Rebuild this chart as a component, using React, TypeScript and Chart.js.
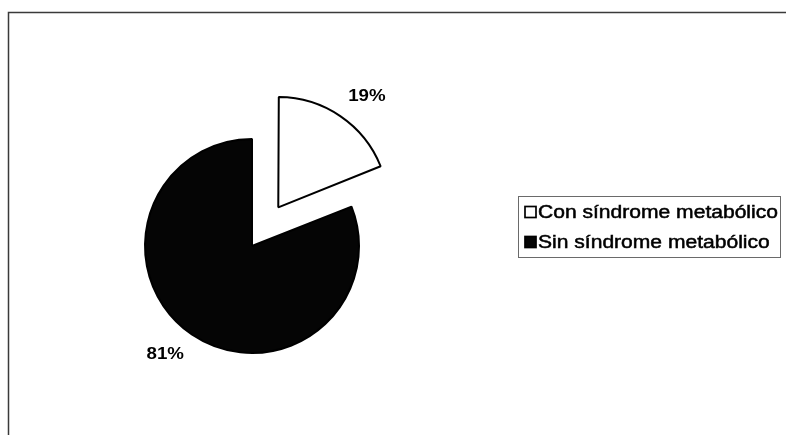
import React, { useEffect, useRef } from "react";
import { Chart, registerables } from "chart.js";

Chart.register(...registerables);

const categories = ["Con síndrome metabólico", "Sin síndrome metabólico"];
const values = [19, 81];
const valueLabels = ["19%", "81%"];

const fillColors = ["#ffffff", "#050505"];
// Chart.js arc offset setting (it moves a slice by roughly a quarter of this)
const explodeSetting = [187, 0];

const FONT = "'Liberation Sans', Arial, sans-serif";

function effectiveOffset(setting: number, circumference: number) {
  const fix = 1 - Math.sin(Math.min(Math.PI, circumference || 0));
  return (setting / 4) * (1 + fix);
}

const framePlugin = {
  id: "frame",
  beforeDraw(chart: any) {
    const ctx = chart.ctx;
    ctx.save();
    ctx.fillStyle = "#ffffff";
    ctx.fillRect(0, 0, chart.width, chart.height);
    ctx.strokeStyle = "#3a3a3a";
    ctx.lineWidth = 1.5;
    ctx.beginPath();
    ctx.moveTo(8.5, chart.height);
    ctx.lineTo(8.5, 12.5);
    ctx.lineTo(chart.width, 12.5);
    ctx.stroke();
    ctx.restore();
  },
};

function stretchedText(ctx: any, text: string, x: number, y: number, sx: number, thicken = 0) {
  ctx.save();
  ctx.translate(x, y);
  ctx.scale(sx, 1);
  if (thicken > 0) {
    ctx.lineWidth = thicken;
    ctx.strokeStyle = ctx.fillStyle;
    ctx.strokeText(text, 0, 0);
  }
  ctx.fillText(text, 0, 0);
  ctx.restore();
}

const labelsPlugin = {
  id: "pctLabels",
  afterDatasetsDraw(chart: any) {
    const ctx = chart.ctx;
    const meta = chart.getDatasetMeta(0);
    ctx.save();
    ctx.fillStyle = "#000";
    ctx.font = `bold 17px ${FONT}`;
    meta.data.forEach((arc: any, i: number) => {
      const { x, y, startAngle, endAngle, outerRadius, circumference } = arc.getProps(
        ["x", "y", "startAngle", "endAngle", "outerRadius", "circumference"],
        true
      );
      const mid = (startAngle + endAngle) / 2;
      const off = effectiveOffset(explodeSetting[i] || 0, circumference);
      const cx = x + Math.cos(mid) * off;
      const cy = y + Math.sin(mid) * off;
      const d = outerRadius + 14;
      const ax = cx + Math.cos(mid) * d;
      const ay = cy + Math.sin(mid) * d;
      ctx.textAlign = Math.cos(mid) >= 0 ? "left" : "right";
      ctx.textBaseline = Math.sin(mid) < 0 ? "bottom" : "top";
      stretchedText(ctx, valueLabels[i], ax, ay, 1.1);
    });
    ctx.restore();
  },
};

const legendPlugin = {
  id: "boxLegend",
  afterDraw(chart: any) {
    const ctx = chart.ctx;
    const left = 518.5;
    const top = 196.5;
    const w = 262;
    const h = 61;
    ctx.save();
    ctx.strokeStyle = "#6a6a6a";
    ctx.lineWidth = 1;
    ctx.strokeRect(left, top, w, h);
    const rowH = 30;
    const firstRow = 212;
    ctx.font = `18px ${FONT}`;
    ctx.textAlign = "left";
    ctx.textBaseline = "middle";
    (chart.data.labels as string[]).forEach((label, i) => {
      const cy = firstRow + i * rowH;
      ctx.fillStyle = fillColors[i];
      ctx.fillRect(525, cy - 5.5, 11, 11);
      ctx.strokeStyle = "#000";
      ctx.lineWidth = 1.7;
      ctx.strokeRect(525, cy - 5.5, 11, 11);
      ctx.fillStyle = "#000";
      stretchedText(ctx, label, 538, cy + 1, 1.17, 0.5);
    });
    ctx.restore();
  },
};

export default function App() {
  const canvasRef = useRef<HTMLCanvasElement | null>(null);

  useEffect(() => {
    if (!canvasRef.current) return;
    const chart = new Chart(canvasRef.current, {
      type: "pie",
      data: {
        labels: categories,
        datasets: [
          {
            data: values,
            backgroundColor: fillColors,
            borderColor: "#000000",
            borderWidth: 2,
            offset: explodeSetting,
          },
        ],
      },
      options: {
        responsive: false,
        animation: false,
        radius: 107,
        layout: { padding: { left: 40, right: 322, top: 60, bottom: 3 } },
        plugins: {
          legend: { display: false },
          tooltip: { enabled: false },
          title: { display: false },
        },
      } as any,
      plugins: [framePlugin, labelsPlugin, legendPlugin],
    });
    return () => chart.destroy();
  }, []);

  return (
    <div style={{ position: "absolute", left: 0, top: 0, width: 786, height: 435, background: "#fff" }}>
      <canvas ref={canvasRef} width={786} height={435} style={{ display: "block" }} />
    </div>
  );
}
